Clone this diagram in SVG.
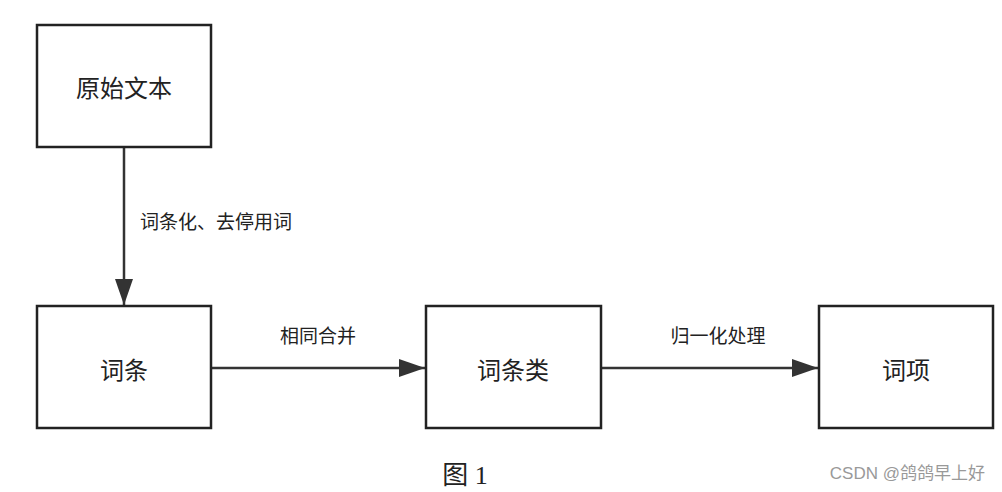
<svg xmlns="http://www.w3.org/2000/svg" width="1002" height="492" viewBox="0 0 1002 492">
<style>
.box{fill:#fff;stroke:#222;stroke-width:2.5}
.t{font-family:"Noto Sans CJK SC",sans-serif;font-size:24px;fill:#222;text-anchor:middle;dominant-baseline:central}
.l{font-family:"Noto Sans CJK SC",sans-serif;font-size:19px;fill:#222}
.c{stroke:#333;stroke-width:2.5;fill:none}
</style>
<defs><marker id="a" markerWidth="10" markerHeight="10" refX="9" refY="5" orient="auto" markerUnits="userSpaceOnUse" viewBox="0 0 10 10"><path d="M0,0 L10,5 L0,10 Z" fill="#333"/></marker>
<marker id="b" markerWidth="26" markerHeight="18" refX="26" refY="9" orient="auto" markerUnits="userSpaceOnUse" viewBox="0 0 26 18"><path d="M0,0 L26,9 L0,18 Z" fill="#333"/></marker></defs>
<rect width="1002" height="492" fill="#fff"/>
<g id="connectors">
<path class="c" d="M124,148 V305" marker-end="url(#b)"/>
<path class="c" d="M212,368 H425" marker-end="url(#b)"/>
<path class="c" d="M602,368 H818" marker-end="url(#b)"/>
<text class="l" x="140" y="229">词条化、去停用词</text>
<text class="l" x="318" y="343" text-anchor="middle">相同合并</text>
<text class="l" x="718" y="343" text-anchor="middle">归一化处理</text>
</g>
<g id="n1"><rect class="box" x="37" y="25" width="174" height="122"/><text class="t" x="124" y="86">原始文本</text></g>
<g id="n2"><rect class="box" x="37" y="306" width="174" height="122"/><text class="t" x="124" y="368">词条</text></g>
<g id="n3"><rect class="box" x="426" y="306" width="175" height="122"/><text class="t" x="513" y="368">词条类</text></g>
<g id="n4"><rect class="box" x="819" y="306" width="174" height="122"/><text class="t" x="906" y="368">词项</text></g>
<text x="465" y="484" font-family="'Liberation Serif','Noto Sans CJK SC',serif" font-size="26" fill="#222" text-anchor="middle">图 1</text>
<text x="985" y="479" font-family="'Liberation Sans','Noto Sans CJK SC',sans-serif" font-size="17" fill="#999" text-anchor="end">CSDN @鸽鸽早上好</text>
</svg>
